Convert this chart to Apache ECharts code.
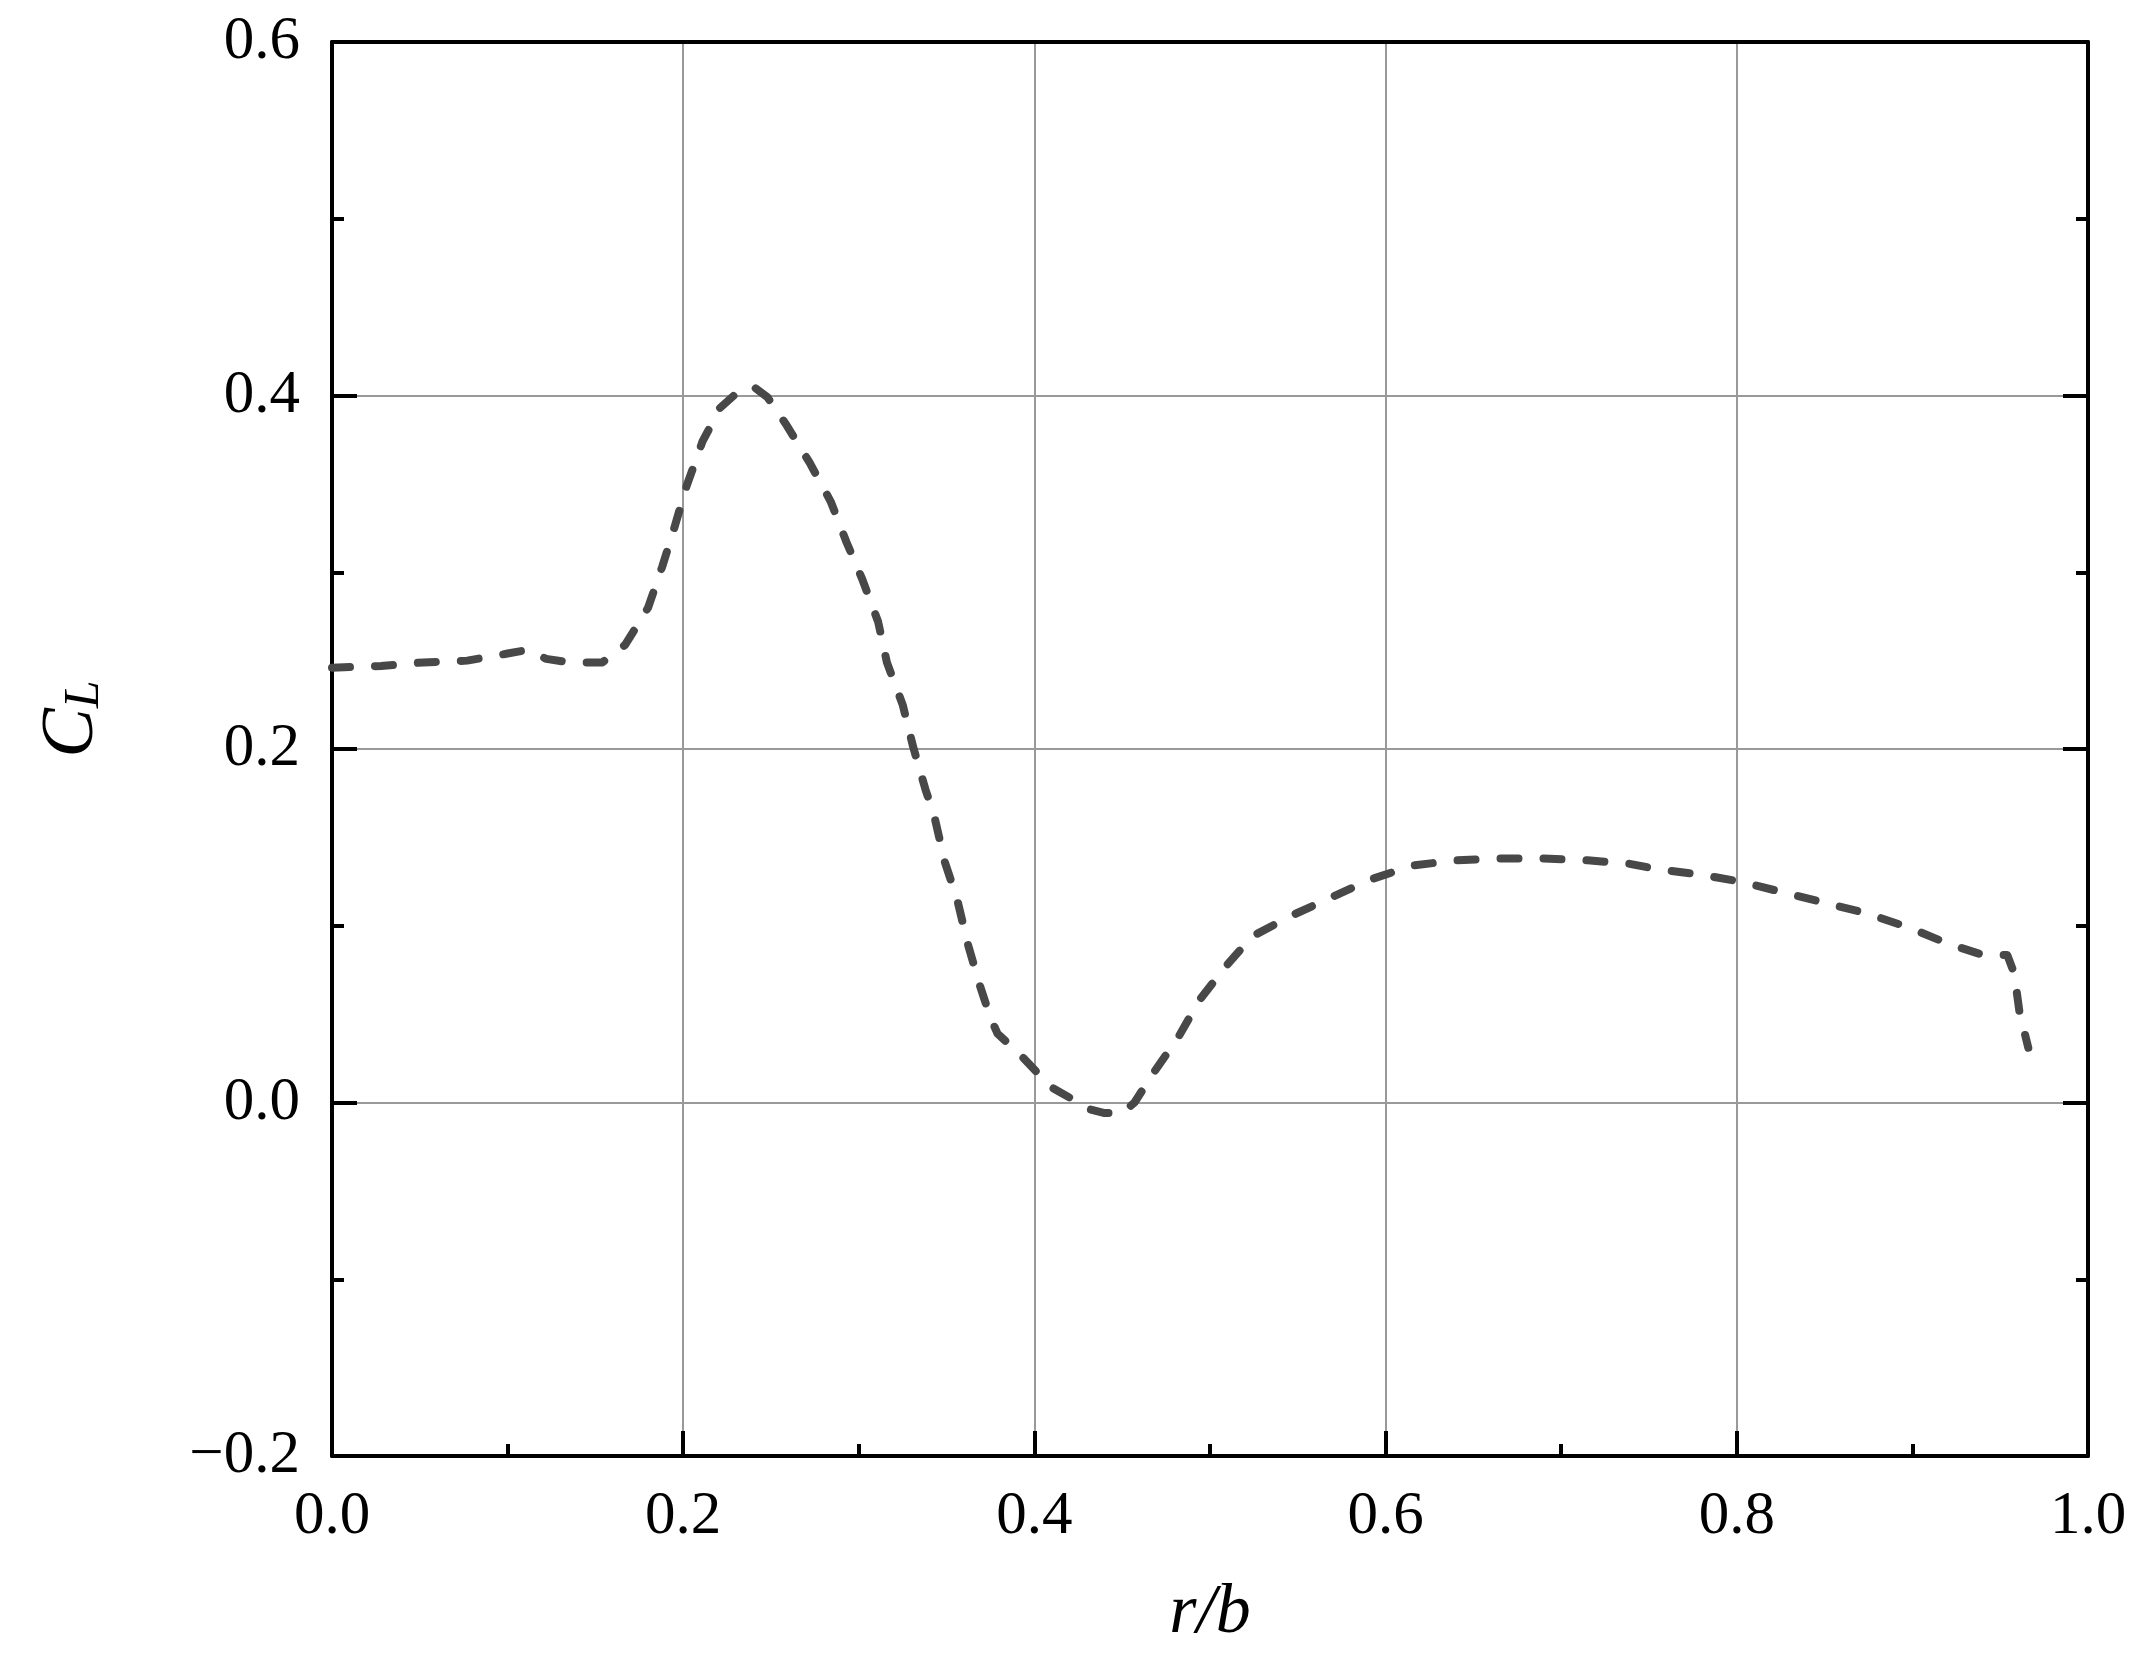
<!DOCTYPE html>
<html>
<head>
<meta charset="utf-8">
<script src="https://cdn.jsdelivr.net/npm/echarts@6/dist/echarts.min.js"></script>
<style>
html,body{margin:0;padding:0;background:#ffffff;}
#chart{width:2155px;height:1668px;}
</style>
</head>
<body>
<div id="chart"></div>
<script>
// r/b positions
const rb = [0.000,0.028,0.052,0.077,0.100,0.111,0.122,0.135,0.154,0.167,0.180,0.188,0.194,0.202,0.211,0.221,0.230,0.240,0.248,0.259,0.272,0.284,0.293,0.302,0.311,0.316,0.325,0.331,0.338,0.343,0.349,0.356,0.362,0.369,0.375,0.379,0.393,0.409,0.432,0.440,0.450,0.457,0.468,0.482,0.494,0.509,0.524,0.547,0.569,0.591,0.615,0.640,0.665,0.690,0.715,0.739,0.755,0.779,0.802,0.826,0.850,0.874,0.898,0.920,0.940,0.954,0.958,0.961,0.966];
// lift coefficient C_L
const cl = [0.246,0.247,0.249,0.250,0.254,0.256,0.251,0.249,0.249,0.259,0.280,0.303,0.322,0.349,0.374,0.393,0.401,0.405,0.399,0.383,0.362,0.340,0.317,0.296,0.272,0.249,0.225,0.201,0.177,0.162,0.136,0.115,0.090,0.066,0.048,0.039,0.026,0.009,-0.004,-0.006,-0.006,0.000,0.017,0.037,0.058,0.077,0.094,0.106,0.116,0.126,0.134,0.137,0.138,0.138,0.137,0.135,0.132,0.129,0.125,0.119,0.113,0.107,0.099,0.090,0.0835,0.0835,0.073,0.051,0.031];
const xTicks = {min: 0, max: 1, interval: 0.2};
const yTicks = {min: -0.2, max: 0.6, interval: 0.2};
const xName = 'r/b';

const seriesData = rb.map((x, i) => [x, cl[i]]);
const fmt = v => (Math.abs(v) < 1e-9 ? '0.0' : v.toFixed(1).replace('-', '\u2212'));
const serif = 'Liberation Serif';

const axisLine = {show: true, onZero: false, lineStyle: {color: '#000', width: 4}};
const tick = {show: true, inside: true, length: 25, lineStyle: {color: '#000', width: 4}};
const minor = {show: true, splitNumber: 2, length: 12, lineStyle: {color: '#000', width: 4}};

const chart = echarts.init(document.getElementById('chart'));
chart.setOption({
  backgroundColor: '#ffffff',
  animation: false,
  grid: {left: 332, right: 67, top: 42, bottom: 212, containLabel: false},
  xAxis: [{
    type: 'value', min: xTicks.min, max: xTicks.max, interval: xTicks.interval,
    position: 'bottom',
    axisLine: axisLine, axisTick: tick, minorTick: minor,
    splitLine: {show: true, lineStyle: {color: '#999', width: 2}},
    axisLabel: {formatter: fmt, fontFamily: serif, fontSize: 61, color: '#000', margin: 30},
    name: xName, nameLocation: 'middle', nameGap: 123,
    nameTextStyle: {fontFamily: serif, fontStyle: 'italic', fontSize: 70, color: '#000'}
  }, {
    type: 'value', min: xTicks.min, max: xTicks.max, interval: xTicks.interval,
    position: 'top',
    axisLine: axisLine, axisTick: {show: false}, minorTick: {show: false},
    splitLine: {show: false}, axisLabel: {show: false}
  }],
  yAxis: [{
    type: 'value', min: yTicks.min, max: yTicks.max, interval: yTicks.interval,
    position: 'left',
    axisLine: axisLine, axisTick: tick, minorTick: minor,
    splitLine: {show: true, lineStyle: {color: '#999', width: 2}},
    axisLabel: {formatter: fmt, fontFamily: serif, fontSize: 61, color: '#000', margin: 32},
    name: '{c|C}{s|L}', nameLocation: 'middle', nameGap: 222,
    nameTextStyle: {
      fontFamily: serif, fontStyle: 'italic', color: '#000',
      padding: [0, 0, 0, 60],
      rich: {
        c: {fontFamily: serif, fontStyle: 'italic', fontSize: 74, lineHeight: 74, color: '#000'},
        s: {fontFamily: serif, fontStyle: 'italic', fontSize: 50, lineHeight: 20, verticalAlign: 'bottom', color: '#000'}
      }
    }
  }, {
    type: 'value', min: yTicks.min, max: yTicks.max, interval: yTicks.interval,
    position: 'right',
    axisLine: axisLine, axisTick: tick, minorTick: minor,
    splitLine: {show: false}, axisLabel: {show: false}
  }],
  series: [{
    type: 'line',
    data: seriesData,
    showSymbol: false,
    smooth: false,
    lineStyle: {color: '#484848', width: 8, type: [18, 25], cap: 'round', join: 'round'}
  }]
});
</script>
</body>
</html>
